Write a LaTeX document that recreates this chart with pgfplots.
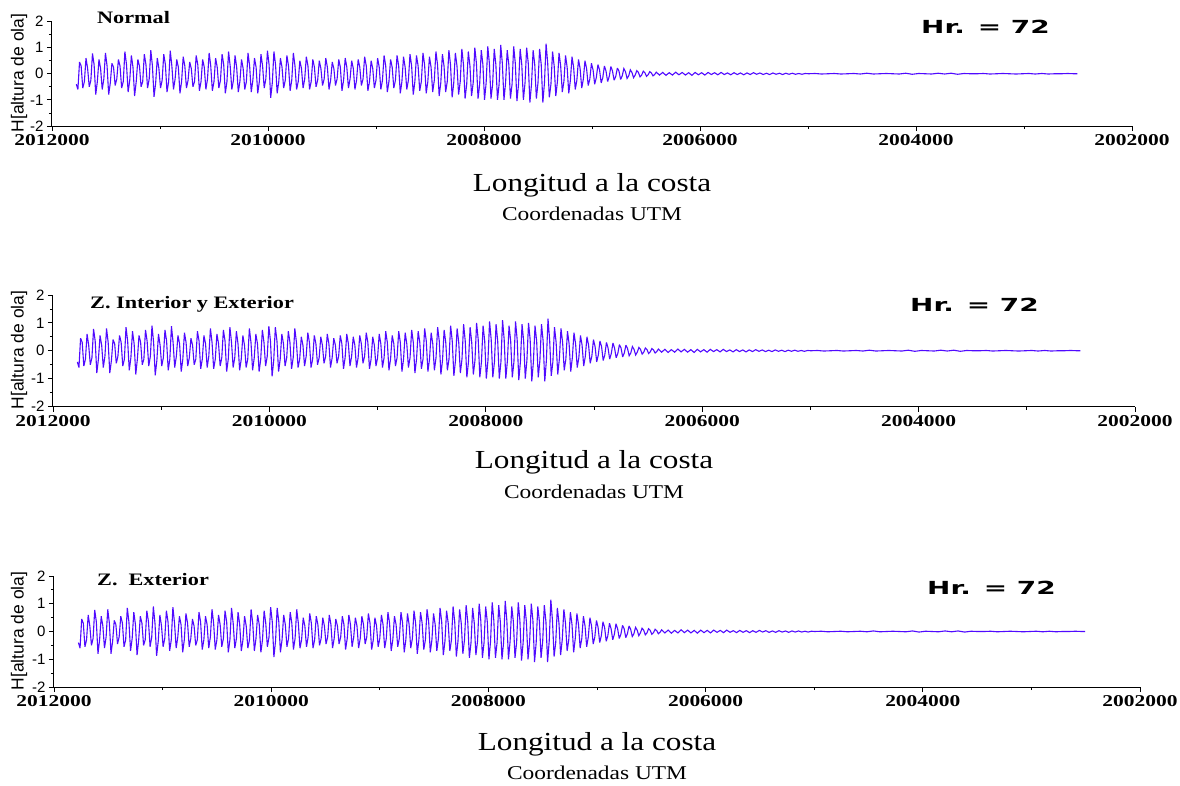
\documentclass[border=0pt]{standalone}
\usepackage{pgfplots}
\pgfplotsset{compat=1.18}
\usepackage{pgfplotstable}
\usepackage{fontspec}
\setmainfont{Liberation Serif}
\newfontfamily\txtfont[FakeStretch=1.2]{Liberation Serif}
\newfontfamily\ttlfont[FakeStretch=1.27]{Liberation Serif}
\newfontfamily\tickfont[FakeStretch=1.3]{Liberation Serif}
\newfontfamily\hrfont[FakeStretch=1.55]{DejaVu Sans}
\newfontfamily\arialfont{Liberation Sans}
\definecolor{wave}{RGB}{80,10,255}

\pgfplotstableread[row sep=\\]{
x y\\
11775 -0.40\\ 11760 -0.60\\
11745 0.45\\ 11730 0.30\\ 11715 -0.55\\ 11700 -0.30\\
11685 0.60\\ 11670 0.20\\ 11655 -0.50\\ 11640 -0.25\\
11625 0.78\\ 11610 0.35\\ 11595 -0.80\\ 11580 -0.30\\
11565 0.55\\ 11550 0.20\\ 11535 -0.60\\ 11520 -0.20\\
11505 0.80\\ 11490 0.30\\ 11475 -0.80\\ 11460 -0.35\\
11445 0.40\\ 11430 0.25\\ 11415 -0.45\\ 11400 -0.20\\
11385 0.55\\ 11370 0.30\\ 11355 -0.55\\ 11340 -0.30\\
11325 0.85\\ 11310 0.35\\ 11295 -0.70\\ 11280 -0.25\\
11265 0.70\\ 11250 0.25\\ 11235 -0.85\\ 11220 -0.30\\
11205 0.55\\ 11190 0.30\\ 11175 -0.50\\ 11160 -0.30\\
11145 0.75\\ 11130 0.35\\ 11115 -0.55\\ 11100 -0.20\\
11085 0.90\\ 11070 0.30\\ 11055 -0.88\\ 11040 -0.35\\
11025 0.60\\ 11010 0.20\\ 10995 -0.55\\ 10980 -0.25\\
10965 0.75\\ 10950 0.35\\ 10935 -0.70\\ 10920 -0.30\\
10905 0.88\\ 10890 0.30\\ 10875 -0.60\\ 10860 -0.20\\
10845 0.55\\ 10830 0.25\\ 10815 -0.75\\ 10800 -0.30\\
10785 0.65\\ 10770 0.30\\ 10755 -0.55\\ 10740 -0.25\\
10725 0.45\\ 10710 0.20\\ 10695 -0.50\\ 10680 -0.30\\
10665 0.70\\ 10650 0.35\\ 10635 -0.65\\ 10620 -0.30\\
10605 0.55\\ 10590 0.25\\ 10575 -0.60\\ 10560 -0.20\\
10545 0.80\\ 10530 0.30\\ 10515 -0.65\\ 10500 -0.30\\
10485 0.60\\ 10470 0.25\\ 10455 -0.55\\ 10440 -0.25\\
10425 0.75\\ 10410 0.35\\ 10395 -0.75\\ 10380 -0.30\\
10365 0.85\\ 10350 0.30\\ 10335 -0.60\\ 10320 -0.25\\
10305 0.70\\ 10290 0.25\\ 10275 -0.70\\ 10260 -0.30\\
10245 0.55\\ 10230 0.20\\ 10215 -0.60\\ 10200 -0.30\\
10185 0.80\\ 10170 0.30\\ 10155 -0.70\\ 10140 -0.25\\
10125 0.60\\ 10110 0.25\\ 10095 -0.75\\ 10080 -0.30\\
10065 0.75\\ 10050 0.30\\ 10035 -0.55\\ 10020 -0.20\\
10005 0.88\\ 9990 0.35\\ 9975 -0.92\\ 9960 -0.35\\
9945 0.85\\ 9930 0.35\\ 9915 -0.75\\ 9900 -0.30\\
9885 0.60\\ 9870 0.25\\ 9855 -0.55\\ 9840 -0.25\\
9825 0.70\\ 9810 0.30\\ 9795 -0.65\\ 9780 -0.25\\
9765 0.80\\ 9750 0.30\\ 9735 -0.60\\ 9720 -0.30\\
9705 0.50\\ 9690 0.20\\ 9675 -0.55\\ 9660 -0.20\\
9645 0.65\\ 9630 0.30\\ 9615 -0.60\\ 9600 -0.30\\
9585 0.55\\ 9570 0.25\\ 9555 -0.50\\ 9540 -0.25\\
9525 0.50\\ 9510 0.20\\ 9495 -0.45\\ 9480 -0.20\\
9465 0.60\\ 9450 0.25\\ 9435 -0.60\\ 9420 -0.25\\
9405 0.45\\ 9390 0.20\\ 9375 -0.45\\ 9360 -0.20\\
9345 0.55\\ 9330 0.25\\ 9315 -0.65\\ 9300 -0.25\\
9285 0.60\\ 9270 0.25\\ 9255 -0.55\\ 9240 -0.20\\
9225 0.50\\ 9210 0.20\\ 9195 -0.60\\ 9180 -0.25\\
9165 0.55\\ 9150 0.25\\ 9135 -0.45\\ 9120 -0.20\\
9105 0.65\\ 9090 0.30\\ 9075 -0.65\\ 9060 -0.30\\
9045 0.50\\ 9030 0.20\\ 9015 -0.55\\ 9000 -0.25\\
8985 0.60\\ 8970 0.25\\ 8955 -0.60\\ 8940 -0.25\\
8925 0.70\\ 8910 0.30\\ 8895 -0.70\\ 8880 -0.30\\
8865 0.55\\ 8850 0.25\\ 8835 -0.55\\ 8820 -0.25\\
8805 0.70\\ 8790 0.30\\ 8775 -0.75\\ 8760 -0.30\\
8745 0.65\\ 8730 0.25\\ 8715 -0.60\\ 8700 -0.25\\
8685 0.75\\ 8670 0.30\\ 8655 -0.80\\ 8640 -0.30\\
8625 0.70\\ 8610 0.30\\ 8595 -0.65\\ 8580 -0.30\\
8565 0.80\\ 8550 0.35\\ 8535 -0.75\\ 8520 -0.30\\
8505 0.65\\ 8490 0.25\\ 8475 -0.70\\ 8460 -0.25\\
8445 0.85\\ 8430 0.35\\ 8415 -0.85\\ 8400 -0.35\\
8385 0.75\\ 8370 0.30\\ 8355 -0.70\\ 8340 -0.30\\
8325 0.90\\ 8310 0.35\\ 8295 -0.90\\ 8280 -0.35\\
8265 0.80\\ 8250 0.30\\ 8235 -0.80\\ 8220 -0.30\\
8205 0.95\\ 8190 0.35\\ 8175 -0.95\\ 8160 -0.40\\
8145 0.85\\ 8130 0.30\\ 8115 -0.85\\ 8100 -0.35\\
8085 1.00\\ 8070 0.40\\ 8055 -0.95\\ 8040 -0.40\\
8025 0.90\\ 8010 0.35\\ 7995 -1.00\\ 7980 -0.35\\
7965 1.05\\ 7950 0.40\\ 7935 -0.95\\ 7920 -0.40\\
7905 0.95\\ 7890 0.35\\ 7875 -1.00\\ 7860 -0.40\\
7845 1.10\\ 7830 0.40\\ 7815 -1.00\\ 7800 -0.35\\
7785 0.90\\ 7770 0.35\\ 7755 -0.95\\ 7740 -0.40\\
7725 1.05\\ 7710 0.40\\ 7695 -1.05\\ 7680 -0.40\\
7665 0.95\\ 7650 0.35\\ 7635 -1.00\\ 7620 -0.35\\
7605 1.00\\ 7590 0.40\\ 7575 -1.10\\ 7560 -0.40\\
7545 0.90\\ 7530 0.35\\ 7515 -0.95\\ 7500 -0.35\\
7485 0.95\\ 7470 0.35\\ 7455 -1.10\\ 7440 -0.35\\
7425 1.15\\ 7410 0.40\\ 7395 -0.90\\ 7380 -0.40\\
7365 0.85\\ 7350 0.30\\ 7335 -0.85\\ 7320 -0.30\\
7305 0.80\\ 7290 0.30\\ 7275 -0.70\\ 7260 -0.30\\
7245 0.70\\ 7230 0.25\\ 7215 -0.75\\ 7200 -0.25\\
7185 0.65\\ 7170 0.25\\ 7155 -0.60\\ 7140 -0.25\\
7125 0.55\\ 7110 0.20\\ 7095 -0.55\\ 7080 -0.20\\
7065 0.50\\ 7050 0.20\\ 7035 -0.45\\ 7020 -0.20\\
7005 0.40\\ 6990 0.15\\ 6975 -0.40\\ 6960 -0.15\\
6945 0.35\\ 6930 0.15\\ 6915 -0.35\\ 6900 -0.15\\
6885 0.30\\ 6870 0.10\\ 6855 -0.30\\ 6840 -0.10\\
6825 0.28\\ 6810 0.10\\ 6795 -0.25\\ 6780 -0.10\\
6765 0.22\\ 6750 0.10\\ 6735 -0.22\\ 6720 -0.08\\
6705 0.20\\ 6690 0.08\\ 6675 -0.18\\ 6660 -0.08\\
6645 0.15\\ 6630 0.05\\ 6615 -0.15\\ 6600 -0.05\\
6585 0.12\\ 6570 0.05\\ 6555 -0.12\\ 6540 -0.05\\
6525 0.10\\ 6510 0.04\\ 6495 -0.10\\ 6480 -0.04\\
6465 0.08\\ 6450 0.03\\ 6435 -0.08\\ 6420 -0.03\\
6405 0.06\\ 6375 -0.05\\ 6345 0.05\\ 6315 -0.06\\ 6285 0.04\\ 6255 -0.05\\
6225 0.06\\ 6195 -0.04\\ 6165 0.05\\ 6135 -0.05\\ 6105 0.04\\ 6075 -0.06\\
6045 0.05\\ 6015 -0.04\\ 5985 0.04\\ 5955 -0.05\\ 5925 0.05\\ 5895 -0.03\\
5865 0.04\\ 5835 -0.04\\ 5805 0.05\\ 5775 -0.03\\ 5745 0.03\\ 5715 -0.04\\
5685 0.04\\ 5655 -0.03\\ 5625 0.03\\ 5595 -0.04\\ 5565 0.03\\ 5535 -0.03\\
5505 0.04\\ 5475 -0.02\\ 5445 0.03\\ 5415 -0.03\\ 5385 0.02\\ 5355 -0.03\\
5325 0.03\\ 5295 -0.02\\ 5265 0.02\\ 5235 -0.03\\ 5205 0.02\\ 5175 -0.02\\
5145 0.02\\ 5115 -0.02\\ 5085 0.01\\ 5055 -0.02\\ 5025 0.01\\
4995 0.00\\ 4935 0.01\\ 4875 -0.01\\ 4815 0.00\\ 4755 0.01\\ 4695 -0.01\\
4635 0.00\\ 4575 0.01\\ 4515 -0.01\\ 4455 0.02\\ 4395 -0.01\\ 4335 0.00\\
4275 0.01\\ 4215 0.00\\ 4155 -0.01\\ 4095 0.02\\ 4035 -0.02\\ 3975 0.01\\
3915 0.00\\ 3855 -0.01\\ 3795 0.02\\ 3735 -0.01\\ 3675 0.02\\ 3615 -0.02\\
3555 0.01\\ 3495 0.00\\ 3435 0.00\\ 3375 0.01\\ 3315 -0.01\\ 3255 0.00\\
3195 0.01\\ 3135 0.00\\ 3075 -0.01\\ 3015 0.00\\ 2955 0.01\\ 2895 -0.01\\
2835 0.01\\ 2775 -0.01\\ 2715 0.00\\ 2655 0.00\\ 2595 0.01\\ 2535 0.00\\
2505 0.00\\
}\wavedata

\pgfplotsset{panel/.style={
  scale only axis, x dir=reverse,
  xmin=2000, xmax=12000, ymin=-2, ymax=2,
  axis x line*=bottom, axis y line*=left,
  axis line style={black, line width=1pt, -},
  xtick={2000,4000,6000,8000,10000,12000},
  xticklabels={2002000,2004000,2006000,2008000,2010000,2012000},
  scaled x ticks=false, scaled y ticks=false,
  ytick={-2,-1,0,1,2},
  yticklabels={-2,-1,0,1,2},
  minor x tick num=1, minor y tick num=1,
  tick align=outside, major tick length=5pt, minor tick length=3pt,
  tick style={black, line width=0.8pt},
  xticklabel style={font=\tickfont\bfseries\fontsize{16.5}{18}\selectfont},
  yticklabel style={font=\arialfont\fontsize{15}{16}\selectfont},
  clip=false,
}}

\begin{document}
\begin{tikzpicture}[x=1pt,y=1pt]
\useasboundingbox (0,0) rectangle (1180,-785);
% panel 1
\begin{axis}[panel, at={(52pt,-21.5pt)}, anchor=north west, width=1080pt, height=104.5pt]
\addplot[wave, line width=1.1pt, line join=miter, miter limit=3] table {\wavedata};
\end{axis}
\node[anchor=base west, inner sep=0, font=\ttlfont\bfseries\fontsize{17.5}{20}\selectfont] at (97,-23) {Normal};
\node[anchor=base west, inner sep=0, font=\hrfont\bfseries\fontsize{18}{20}\selectfont] at (921,-33) {Hr. = 72};
\node[anchor=base, inner sep=0, font=\txtfont\fontsize{26}{30}\selectfont] at (592,-191.7) {Longitud a la costa};
\node[anchor=base, inner sep=0, font=\txtfont\fontsize{19.5}{22}\selectfont] at (592,-220) {Coordenadas UTM};
\node[rotate=90, inner sep=0, font=\arialfont\fontsize{17.5}{20}\selectfont] at (19,-73) {H[altura de ola]};
% panel 2
\begin{axis}[panel, at={(53pt,-295pt)}, anchor=north west, width=1082pt, height=111.5pt]
\addplot[wave, line width=1.1pt, line join=miter, miter limit=3] table {\wavedata};
\end{axis}
\node[anchor=base west, inner sep=0, font=\ttlfont\bfseries\fontsize{17.5}{20}\selectfont] at (90,-308) {Z. Interior y Exterior};
\node[anchor=base west, inner sep=0, font=\hrfont\bfseries\fontsize{18}{20}\selectfont] at (910,-311) {Hr. = 72};
\node[anchor=base, inner sep=0, font=\txtfont\fontsize{26}{30}\selectfont] at (594,-468) {Longitud a la costa};
\node[anchor=base, inner sep=0, font=\txtfont\fontsize{19.5}{22}\selectfont] at (594,-498) {Coordenadas UTM};
\node[rotate=90, inner sep=0, font=\arialfont\fontsize{17.5}{20}\selectfont] at (19,-350) {H[altura de ola]};
% panel 3
\begin{axis}[panel, at={(54pt,-576pt)}, anchor=north west, width=1086pt, height=111pt]
\addplot[wave, line width=1.1pt, line join=miter, miter limit=3] table {\wavedata};
\end{axis}
\node[anchor=base west, inner sep=0, font=\ttlfont\bfseries\fontsize{17.5}{20}\selectfont] at (97,-585) {Z.\ \ Exterior};
\node[anchor=base west, inner sep=0, font=\hrfont\bfseries\fontsize{18}{20}\selectfont] at (927,-594) {Hr. = 72};
\node[anchor=base, inner sep=0, font=\txtfont\fontsize{26}{30}\selectfont] at (597,-750) {Longitud a la costa};
\node[anchor=base, inner sep=0, font=\txtfont\fontsize{19.5}{22}\selectfont] at (597,-779) {Coordenadas UTM};
\node[rotate=90, inner sep=0, font=\arialfont\fontsize{17.5}{20}\selectfont] at (19,-631) {H[altura de ola]};
\end{tikzpicture}
\end{document}
